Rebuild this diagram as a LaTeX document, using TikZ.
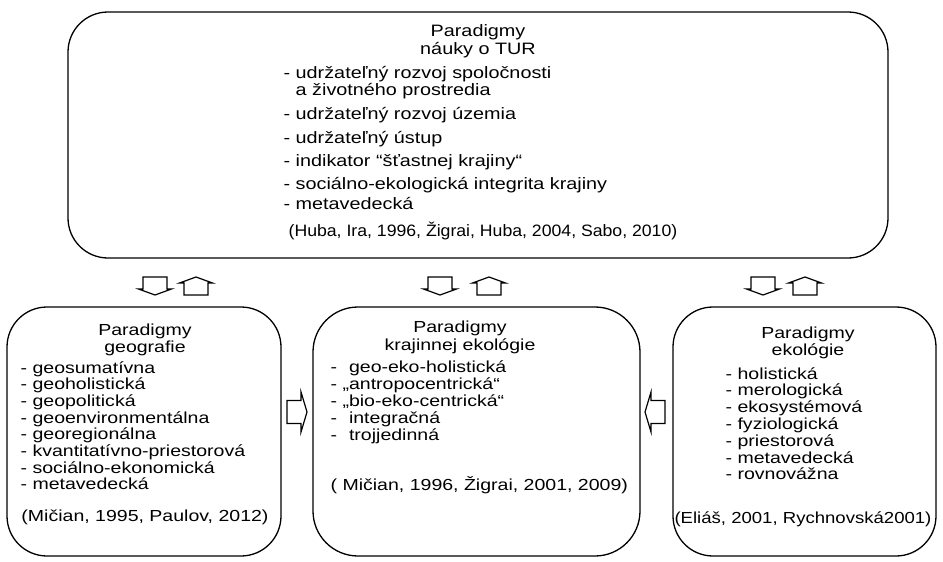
\documentclass[tikz,border=0pt]{standalone}
\usepackage{fontspec}
\setmainfont{Liberation Sans}
\newfontfamily\topfont{Liberation Sans}[FakeStretch=1.2]
\newfontfamily\citfont{Liberation Sans}[FakeStretch=1.07]
\newfontfamily\lowfont{Liberation Sans}[FakeStretch=1.22]
\newfontfamily\ekofont{Liberation Sans}[FakeStretch=1.16]
\usepackage{tikz}
\usetikzlibrary{positioning}

\begin{document}
\begin{tikzpicture}[x=1pt,y=-1pt,line width=1.3pt,
    par box/.style={draw,rounded corners=40pt,inner sep=0pt,minimum height=249pt},
    top text/.style={font=\topfont\fontsize{16.5}{17}\selectfont,inner sep=0pt,anchor=base west},
    top head/.style={font=\topfont\fontsize{16.5}{17}\selectfont,inner sep=0pt,anchor=base},
    top cit/.style={font=\citfont\fontsize{16.5}{17}\selectfont,inner sep=0pt,anchor=base west},
    low text/.style={font=\lowfont\fontsize{16}{17}\selectfont,inner sep=0pt,anchor=base west},
    low head/.style={font=\lowfont\fontsize{16}{17}\selectfont,inner sep=0pt,anchor=base},
    vert arr/.pic={\draw[line width=1.2pt,line join=miter] (0,-12) -- (12,-12) -- (12,-16.5) -- (18,0) -- (12,16.5) -- (12,12) -- (0,12) -- cycle;},
    side arr/.pic={\draw[line width=1.2pt,line join=miter] (0,-11.5) -- (14,-11.5) -- (14,-20) -- (20,0) -- (14,20) -- (14,11.5) -- (0,11.5) -- cycle;}]
  \useasboundingbox (0,0) rectangle (943,562);

  % boxes
  \node[par box,minimum width=820pt,minimum height=246pt] (tur) at (478,135) {};
  \node[par box,minimum width=274pt] (geo) at (144,431.5) {};
  \node[par box,minimum width=327pt,rounded corners=45pt] (kraj) at (476.5,431.5) {};
  \node[par box,minimum width=263pt] (eko) at (804.5,431.5) {};

  % top box
  \node[top head] (tur h1) at (478,36) {Paradigmy};
  \node[top head] (tur h2) at (478,54) {náuky o TUR};
  \foreach \y/\t [count=\i] in {78/{- udržateľný rozvoj spoločnosti},
      95/{\phantom{- }a životného prostredia},
      119/{- udržateľný rozvoj územia},
      143/{- udržateľný ústup},
      166/{- indikator “šťastnej krajiny“},
      189/{- sociálno-ekologická integrita krajiny},
      209/{- metavedecká}}
    \node[top text] (tur\i) at (283,\y) {\t};
  \node[top cit] (tur cit) at (288,236) {(Huba, Ira, 1996, Žigrai, Huba, 2004, Sabo, 2010)};

  % geografia
  \node[low head] (geo h1) at (145,335) {Paradigmy};
  \node[low head] (geo h2) at (145,352) {geografie};
  \foreach \t [count=\i] in {geosumatívna,geoholistická,geopolitická,geoenvironmentálna,
      georegionálna,kvantitatívno-priestorová,sociálno-ekonomická,metavedecká}
    \node[low text] (geo\i) at (20,356.3+16.7*\i) {- \t};
  \node[low head] (geo cit) at (145,521) {(Mičian, 1995, Paulov, 2012)};

  % krajinna ekologia
  \node[low head] (kraj h1) at (460,332) {Paradigmy};
  \node[low head] (kraj h2) at (460,350) {krajinnej ekológie};
  \foreach \t [count=\i] in {\phantom{„}geo-eko-holistická,„antropocentrická“,„bio-eko-centrická“,
      \phantom{„}integračná,\phantom{„}trojjedinná}
    \node[low text] (kraj\i) at (330,354.8+17.2*\i) {- \t};
  \node[low text] (kraj cit) at (330,490) {( Mičian, 1996, Žigrai, 2001, 2009)};

  % ekologia
  \node[low head] (eko h1) at (808,338) {Paradigmy};
  \node[low head] (eko h2) at (808,355) {ekológie};
  \foreach \t [count=\i] in {holistická,merologická,ekosystémová,fyziologická,
      priestorová,metavedecká,rovnovážna}
    \node[low text] (eko\i) at (725,362.2+16.8*\i) {- \t};
  \node[low head,font=\ekofont\fontsize{16}{17}\selectfont] (eko cit) at (803,523) {(Eliáš, 2001, Rychnovská2001)};

  % block arrows
  \pic[rotate=-90] (dn1) at (155,277) {vert arr};
  \pic[rotate=90] (up1) at (196,295) {vert arr};
  \pic[rotate=-90] (dn2) at (440,277) {vert arr};
  \pic[rotate=90] (up2) at (489,295) {vert arr};
  \pic[rotate=-90] (dn3) at (763,277) {vert arr};
  \pic[rotate=90] (up3) at (805,295) {vert arr};
  \pic (rt) at (287,412) {side arr};
  \pic[rotate=180] (lt) at (665,412) {side arr};
\end{tikzpicture}
\end{document}
